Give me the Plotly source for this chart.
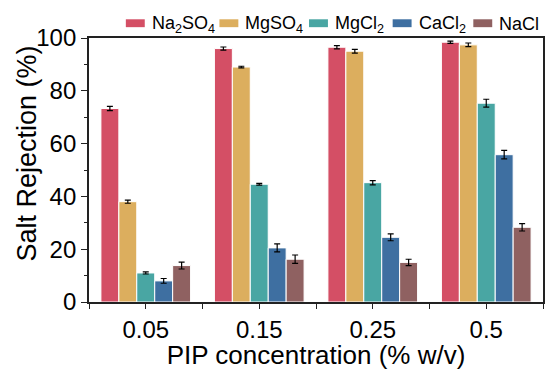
import plotly.graph_objects as go

categories = ["0.05", "0.15", "0.25", "0.5"]
salts = ["Na<sub>2</sub>SO<sub>4</sub>", "MgSO<sub>4</sub>", "MgCl<sub>2</sub>", "CaCl<sub>2</sub>", "NaCl"]
na2so4 = [73.3, 96.0, 96.5, 98.4]
mgso4 = [38.0, 89.0, 95.0, 97.4]
mgcl2 = [11.0, 44.6, 45.2, 75.3]
cacl2 = [8.0, 20.5, 24.5, 55.8]
nacl = [13.8, 16.2, 15.0, 28.3]
na2so4_err = [0.8, 0.6, 0.6, 0.4]
mgso4_err = [0.6, 0.3, 0.7, 0.7]
mgcl2_err = [0.4, 0.3, 0.8, 1.5]
cacl2_err = [0.9, 1.5, 1.3, 1.6]
nacl_err = [1.3, 1.6, 1.2, 1.4]
colors = ["#D44F65", "#DCAE5E", "#49A6A3", "#3E6FA1", "#8F6161"]
x_title = "PIP concentration (% w/v)"
y_title = "Salt Rejection (%)"

values = [na2so4, mgso4, mgcl2, cacl2, nacl]
errors = [na2so4_err, mgso4_err, mgcl2_err, cacl2_err, nacl_err]

W, H = 548, 370
ML, MR, MT, MB = 89, 3, 38, 64
PW, PH = W - ML - MR, H - MT - MB

xpos = list(range(len(categories)))

fig = go.Figure()
for name, v, e, c in zip(salts, values, errors, colors):
    fig.add_trace(go.Bar(
        x=xpos, y=v, name=name, showlegend=False,
        marker=dict(color=c, line=dict(color="white", width=1)),
        error_y=dict(type="data", array=e, color="black", thickness=1.2, width=3),
    ))

def px2x(px):
    return (px - ML) / PW
def py2y(py):
    return (H - MB - py) / PH

# custom legend (wide rectangular swatches, as in the reference)
legend_left_px = [126, 220, 310, 394, 475]
sw_w, sw_h, leg_cy = 19, 8, 23
shapes, annots = [], []
for name, c, lx in zip(salts, colors, legend_left_px):
    shapes.append(dict(type="rect", xref="paper", yref="paper",
                       x0=px2x(lx), x1=px2x(lx + sw_w),
                       y0=py2y(leg_cy + sw_h / 2), y1=py2y(leg_cy - sw_h / 2),
                       fillcolor=c, line=dict(width=0)))
    annots.append(dict(text=name, xref="paper", yref="paper",
                       x=px2x(lx + sw_w + 5), y=py2y(leg_cy + 1),
                       xanchor="left", yanchor="middle", showarrow=False,
                       font=dict(size=18, color="black")))

# y-axis title placed as in the reference (slightly above the axis centre)
annots.append(dict(text=y_title, xref="paper", yref="paper",
                   x=px2x(27), y=py2y(155), xanchor="center", yanchor="middle",
                   textangle=-90, showarrow=False, font=dict(size=27, color="black")))

fig.update_layout(
    width=W, height=H,
    margin=dict(l=ML, r=MR, t=MT, b=MB),
    barmode="group", bargap=0.21, bargroupgap=0.0,
    plot_bgcolor="white", paper_bgcolor="white",
    font=dict(family="Liberation Sans, Arial, sans-serif", color="black"),
    showlegend=False,
    shapes=shapes, annotations=annots,
    xaxis=dict(
        title=dict(text=x_title, font=dict(size=26), standoff=6),
        tickmode="array", tickvals=xpos, ticktext=categories,
        range=[-0.5, len(categories) - 0.5],
        tickfont=dict(size=24), showline=True, linecolor="#222", linewidth=1.8,
        mirror=True, ticks="outside", ticklen=5, tickcolor="#222", tickwidth=1.3,
        showgrid=False, zeroline=False,
        minor=dict(tickvals=[i - 0.5 for i in range(len(categories) + 1)],
                   ticks="outside", ticklen=5, tickcolor="#222", tickwidth=1.3, showgrid=False),
    ),
    yaxis=dict(
        range=[0, 100], dtick=20, tickfont=dict(size=24),
        showline=True, linecolor="#222", linewidth=1.8, mirror=True,
        ticks="outside", ticklen=6, tickcolor="#222", tickwidth=1.3,
        showgrid=False, zeroline=False,
        minor=dict(dtick=10, ticks="outside", ticklen=3, tickcolor="#222", tickwidth=1.3),
    ),
)

fig.write_html("out.html")
